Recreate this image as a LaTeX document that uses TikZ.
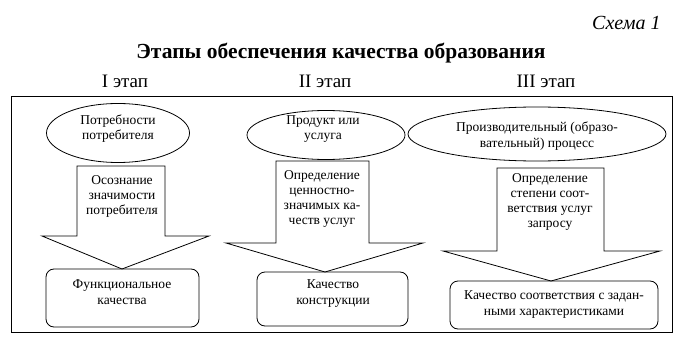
\documentclass[tikz,border=0pt]{standalone}
\usepackage{fontspec}
\setmainfont{Liberation Serif}
\usetikzlibrary{shapes.geometric}
\begin{document}
\begin{tikzpicture}[x=1pt,y=-1pt,
  ell/.style={draw, ellipse, inner sep=0pt, line width=0.8pt},
  rbox/.style={draw, rounded corners=8pt, line width=0.8pt, inner sep=0pt},
  barrow/.style={draw, line width=0.8pt},
  txt/.style={align=center, inner sep=0pt, font=\fontsize{13.5}{15}\selectfont},
  btxt/.style={align=center, inner sep=0pt, font=\fontsize{13.5}{16}\selectfont},
  stage/.style={anchor=base, inner sep=0pt, font=\fontsize{19}{21}\selectfont}]
\useasboundingbox (0,0) rectangle (696,350);

% headings
\node[anchor=base west, inner sep=0pt, font=\itshape\fontsize{20}{22}\selectfont] (schema) at (592,30) {Схема 1};
\node[anchor=base, inner sep=0pt, font=\bfseries\fontsize{21.5}{24}\selectfont] (title) at (341,59) {Этапы обеспечения качества образования};
\node[stage] (s1) at (125,88) {I этап};
\node[stage] (s2) at (325,88) {II этап};
\node[stage] (s3) at (546,88) {III этап};

% frame
\draw[line width=1pt] (11,97) rectangle (672,332);

% stage I
\node[ell, minimum width=143pt, minimum height=59pt] (e1) at (118,133) {};
\node[txt] (e1t) at (118,129) {Потребности\\потребителя};
\draw[barrow] (77,166) -- (165,166) -- (165,236) -- (209,236) -- (122,269) -- (42,236) -- (77,236) -- cycle;
\node[txt] (a1t) at (122,196) {Осознание\\значимости\\потребителя};
\node[rbox, minimum width=153pt, minimum height=58pt] (b1) at (122.5,298) {};
\node[btxt] (b1t) at (122,292) {Функциональное\\качества};

% stage II
\node[ell, minimum width=158pt, minimum height=49pt] (e2) at (326,135) {};
\node[txt] (e2t) at (323,129) {Продукт или\\услуга};
\draw[barrow] (276,161) -- (369,161) -- (369,243) -- (423,243) -- (325,272) -- (226,243) -- (276,243) -- cycle;
\node[txt] (a2t) at (322,199) {Определение\\ценностно-\\значимых ка-\\честв услуг};
\node[rbox, minimum width=151pt, minimum height=54pt] (b2) at (332.5,299) {};
\node[btxt] (b2t) at (333,294) {Качество\\конструкции};

% stage III
\node[ell, minimum width=258pt, minimum height=54pt] (e3) at (537,134) {};
\node[btxt] (e3t) at (537,136) {Производительный (образо-\\вательный) процесс};
\draw[barrow] (497,168) -- (604,168) -- (604,251) -- (660,251) -- (551,281) -- (443,251) -- (497,251) -- cycle;
\node[txt] (a3t) at (550,202) {Определение\\степени соот-\\ветствия услуг\\запросу};
\node[rbox, minimum width=208pt, minimum height=48pt] (b3) at (554,305) {};
\node[btxt] (b3t) at (554,305) {Качество соответствия с задан-\\ными характеристиками};
\end{tikzpicture}
\end{document}
